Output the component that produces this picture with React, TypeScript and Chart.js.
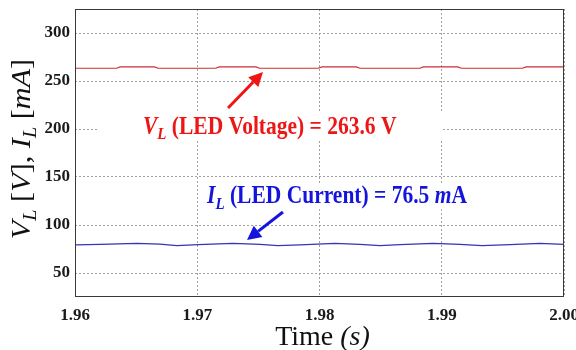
import { useEffect, useRef } from 'react';
import { Chart, registerables } from 'chart.js';

Chart.register(...registerables);

// ---------- data ----------
const X_TICKS = [1.96, 1.97, 1.98, 1.99, 2.0];
const Y_TICKS = [50, 100, 150, 200, 250, 300];

const TIME_V = [1.96, 1.9634, 1.9637, 1.9665, 1.9668, 1.9715, 1.9718, 1.9748, 1.9751, 1.9799, 1.9802, 1.983, 1.9833, 1.9882, 1.9885, 1.9913, 1.9916, 1.9966, 1.9969, 2.0];
const VOLTAGE = [263.3, 263.3, 264.7, 264.7, 263.3, 263.3, 264.7, 264.7, 263.3, 263.3, 264.7, 264.7, 263.3, 263.3, 264.7, 264.7, 263.3, 263.3, 264.7, 264.7];

const TIME_I = [1.96, 1.96204, 1.96507, 1.96695, 1.96834, 1.97006, 1.97292, 1.97513, 1.9766, 1.9784, 1.98127, 1.98331, 1.98495, 1.98658, 1.98928, 1.99149, 1.99329, 1.99558, 1.99804, 2.0];
const CURRENT = [79.3, 79.8, 80.8, 80.0, 78.6, 79.5, 80.8, 79.8, 78.6, 79.3, 80.8, 79.8, 78.6, 79.5, 80.8, 79.8, 78.6, 79.5, 80.8, 79.8];

// annotation anchors (data units)
const V_LABEL = { x: 1.96556, y: 195 };
const I_LABEL = { x: 1.9708, y: 122.6 };
const V_ARROW = { x0: 1.97252, y0: 221.9, x1: 1.97538, y1: 259.4 };
const I_ARROW = { x0: 1.97701, y0: 113.5, x1: 1.97407, y1: 84.4 };
const V_BOX = { x0: 1.96188, x1: 1.9901, y0: 188, y1: 218 };

const SERIF = "'Liberation Serif', 'Times New Roman', serif";

type Seg = { t: string; italic?: boolean; sub?: boolean };

function segFont(s: Seg, size: number, bold: boolean) {
  const sz = s.sub ? Math.round(size * 0.68) : size;
  return `${s.italic ? 'italic ' : ''}${bold ? 'bold ' : ''}${sz}px ${SERIF}`;
}

function measureRich(ctx: CanvasRenderingContext2D, segs: Seg[], size: number, bold: boolean) {
  let w = 0;
  for (const s of segs) {
    ctx.font = segFont(s, size, bold);
    w += ctx.measureText(s.t).width;
  }
  return w;
}

function drawRich(ctx: CanvasRenderingContext2D, segs: Seg[], size: number, bold: boolean, x: number, y: number, color: string) {
  let cx = x;
  ctx.fillStyle = color;
  ctx.textBaseline = 'alphabetic';
  ctx.textAlign = 'left';
  for (const s of segs) {
    ctx.font = segFont(s, size, bold);
    ctx.fillText(s.t, cx, y + (s.sub ? size * 0.22 : 0));
    cx += ctx.measureText(s.t).width;
  }
  return cx;
}

function arrow(ctx: CanvasRenderingContext2D, x0: number, y0: number, x1: number, y1: number, color: string) {
  const ang = Math.atan2(y1 - y0, x1 - x0);
  const hl = 14, hw = 7;
  const bx = x1 - hl * Math.cos(ang), by = y1 - hl * Math.sin(ang);
  ctx.strokeStyle = color;
  ctx.fillStyle = color;
  ctx.lineWidth = 3;
  ctx.beginPath();
  ctx.moveTo(x0, y0);
  ctx.lineTo(bx, by);
  ctx.stroke();
  ctx.beginPath();
  ctx.moveTo(x1, y1);
  ctx.lineTo(bx + hw * Math.sin(ang), by - hw * Math.cos(ang));
  ctx.lineTo(bx - hw * Math.sin(ang), by + hw * Math.cos(ang));
  ctx.closePath();
  ctx.fill();
}

const decor = {
  id: 'decor',
  afterDraw(chart: any) {
    const { ctx, chartArea: a, scales } = chart;
    const xs = scales.x, ys = scales.y;
    ctx.save();
    // frame
    ctx.strokeStyle = '#3a3a3a';
    ctx.lineWidth = 1;
    const l = Math.round(a.left) + 0.5, t = Math.round(a.top) + 0.5;
    const r = Math.round(a.right) - 0.5, b = Math.round(a.bottom) - 0.5;
    ctx.strokeRect(l, t, r - l, b - t);

    // white box behind voltage label
    const bx0 = xs.getPixelForValue(V_BOX.x0), bx1 = xs.getPixelForValue(V_BOX.x1);
    const by0 = ys.getPixelForValue(V_BOX.y1), by1 = ys.getPixelForValue(V_BOX.y0);
    ctx.fillStyle = '#ffffff';
    ctx.fillRect(bx0, by0, bx1 - bx0, by1 - by0);

    const sy = 1.15;
    // voltage label
    const vSegs: Seg[] = [
      { t: 'V', italic: true },
      { t: 'L', italic: true, sub: true },
      { t: ' (LED Voltage) = 263.6 V' },
    ];
    const vx = xs.getPixelForValue(V_LABEL.x), vy = ys.getPixelForValue(V_LABEL.y);
    ctx.save();
    ctx.translate(vx, vy);
    ctx.scale(1, sy);
    drawRich(ctx, vSegs, 21.5, true, 0, 0, '#ee1515');
    ctx.restore();

    // current label
    const iSegs: Seg[] = [
      { t: 'I', italic: true },
      { t: 'L', italic: true, sub: true },
      { t: ' (LED Current) = 76.5 ' },
      { t: 'm', italic: true },
      { t: 'A' },
    ];
    const ix = xs.getPixelForValue(I_LABEL.x), iy = ys.getPixelForValue(I_LABEL.y);
    const iw = measureRich(ctx, iSegs, 21.5, true);
    ctx.fillStyle = '#ffffff';
    ctx.fillRect(ix - 2, iy - 20, iw + 4, 26);
    ctx.save();
    ctx.translate(ix, iy);
    ctx.scale(1, sy);
    drawRich(ctx, iSegs, 21.5, true, 0, 0, '#1414dd');
    ctx.restore();

    // arrows
    arrow(ctx, xs.getPixelForValue(V_ARROW.x0), ys.getPixelForValue(V_ARROW.y0), xs.getPixelForValue(V_ARROW.x1), ys.getPixelForValue(V_ARROW.y1), '#ee1515');
    arrow(ctx, xs.getPixelForValue(I_ARROW.x0), ys.getPixelForValue(I_ARROW.y0), xs.getPixelForValue(I_ARROW.x1), ys.getPixelForValue(I_ARROW.y1), '#1414dd');

    // y title
    const ySegs: Seg[] = [
      { t: 'V', italic: true },
      { t: 'L', italic: true, sub: true },
      { t: ' [' },
      { t: 'V', italic: true },
      { t: '], ' },
      { t: 'I', italic: true },
      { t: 'L', italic: true, sub: true },
      { t: ' [' },
      { t: 'mA', italic: true },
      { t: ']' },
    ];
    const ySize = 27;
    const yStretch = 1.12;
    const yw = measureRich(ctx, ySegs, ySize, false);
    ctx.save();
    ctx.translate(30, 149);
    ctx.rotate(-Math.PI / 2);
    ctx.scale(yStretch, 1);
    drawRich(ctx, ySegs, ySize, false, -yw / 2, 0, '#111111');
    ctx.restore();

    // x title
    const xSegs: Seg[] = [{ t: 'Time ' }, { t: '(s)', italic: true }];
    const xSize = 28;
    const xw = measureRich(ctx, xSegs, xSize, false);
    drawRich(ctx, xSegs, xSize, false, (a.left + a.right) / 2 + 3 - xw / 2, 345, '#111111');

    ctx.restore();
  },
};

export default function App() {
  const ref = useRef<HTMLCanvasElement | null>(null);
  useEffect(() => {
    if (!ref.current) return;
    const chart = new Chart(ref.current, {
      type: 'line',
      data: {
        datasets: [
          {
            label: 'VL',
            data: TIME_V.map((t, i) => ({ x: t, y: VOLTAGE[i] })),
            borderColor: '#cc3030',
            borderWidth: 1.2,
            pointRadius: 0,
            tension: 0,
          },
          {
            label: 'IL',
            data: TIME_I.map((t, i) => ({ x: t, y: CURRENT[i] })),
            borderColor: '#3535b5',
            borderWidth: 1.2,
            pointRadius: 0,
            tension: 0,
          },
        ],
      },
      options: {
        animation: false,
        responsive: true,
        maintainAspectRatio: false,
        layout: { padding: { left: 0, top: 9, right: 12, bottom: 0 } },
        plugins: { legend: { display: false }, tooltip: { enabled: false } },
        scales: {
          x: {
            type: 'linear',
            min: 1.96,
            max: 2.0,
            afterBuildTicks: (s: any) => {
              s.ticks = X_TICKS.map((v) => ({ value: v }));
            },
            afterFit: (s: any) => {
              s.height = 53;
              s.paddingLeft = 0;
              s.paddingRight = 0;
            },
            ticks: {
              callback: (v: any) => Number(v).toFixed(2),
              font: { family: SERIF, size: 17, weight: 'bold' },
              color: '#1a1a1a',
              padding: 8,
              maxRotation: 0,
              autoSkip: false,
            },
            grid: { color: '#a0a0a0', lineWidth: 1, drawTicks: false },
            border: { display: false, dash: [2, 2] },
          },
          y: {
            type: 'linear',
            min: 25,
            max: 325,
            afterBuildTicks: (s: any) => {
              s.ticks = Y_TICKS.map((v) => ({ value: v }));
            },
            afterFit: (s: any) => {
              s.width = 75;
              s.paddingTop = 0;
              s.paddingBottom = 0;
            },
            ticks: {
              font: { family: SERIF, size: 17, weight: 'bold' },
              color: '#1a1a1a',
              padding: 5,
            },
            grid: { color: '#a0a0a0', lineWidth: 1, drawTicks: false },
            border: { display: false, dash: [2, 2] },
          },
        },
      } as any,
      plugins: [decor],
    });
    return () => chart.destroy();
  }, []);
  return (
    <div style={{ position: 'absolute', left: 0, top: 0, width: 576, height: 350, background: '#fff' }}>
      <canvas ref={ref} />
    </div>
  );
}
